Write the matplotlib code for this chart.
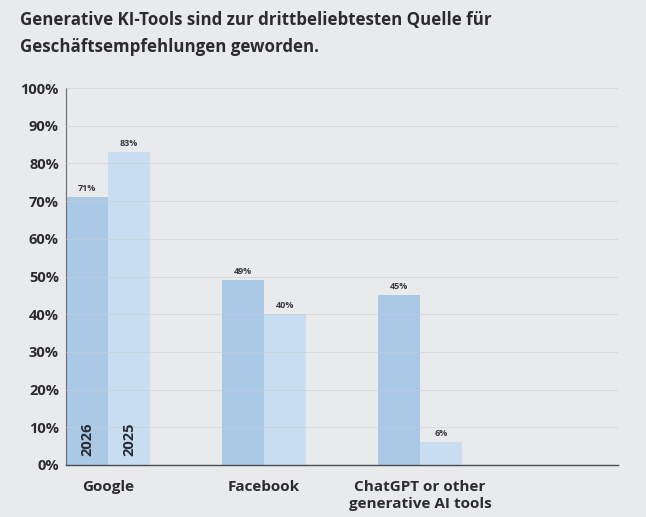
import matplotlib
matplotlib.use("Agg")
import matplotlib.pyplot as plt
import numpy as np

categories = ["Google", "Facebook", "ChatGPT or other\ngenerative AI tools"]
years = ["2026", "2025"]
values_2026 = [71, 49, 45]
values_2025 = [83, 40, 6]
yticks = [0, 10, 20, 30, 40, 50, 60, 70, 80, 90, 100]
title = "Generative KI-Tools sind zur drittbeliebtesten Quelle für\nGeschäftsempfehlungen geworden."

plt.rcParams['font.family'] = ['Open Sans', 'DejaVu Sans']
bg = "#e9eaec"
c2026 = "#a9c9e7"
c2025 = "#c9ddf1"
txt = "#2b2b30"

fig = plt.figure(figsize=(6.46, 5.17), dpi=100, facecolor=bg)
ax = fig.add_axes([0.102, 0.1006, 0.855, 0.729])
ax.set_facecolor(bg)

x = np.arange(len(categories))
w = 0.27
b1 = ax.bar(x - w / 2, values_2026, w, color=c2026, zorder=1)
b2 = ax.bar(x + w / 2, values_2025, w, color=c2025, zorder=1)

for bars, vals in ((b1, values_2026), (b2, values_2025)):
    for r, v in zip(bars, vals):
        ax.text(r.get_x() + r.get_width() / 2, v + 1.2, f"{v}%", ha="center", va="bottom",
                fontsize=6.5, fontweight="bold", color="#3a3a40", zorder=3)

# year labels inside first group
for r, yr in zip((b1[0], b2[0]), years):
    ax.text(r.get_x() + r.get_width() / 2, 2.5, yr, rotation=90, ha="center", va="bottom",
            fontsize=10.5, fontweight="bold", color=txt, zorder=3)

ax.set_xlim(-0.27, 3.27)
ax.set_ylim(0, 100)
ax.set_yticks(yticks)
ax.set_yticklabels([f"{t}%" for t in yticks], fontsize=10.5, fontweight="bold", color=txt)
ax.set_xticks(x)
ax.set_xticklabels(categories, fontsize=11, fontweight="bold", color=txt, linespacing=1.25)
ax.tick_params(axis="both", length=0)
ax.tick_params(axis="y", pad=5)
ax.tick_params(axis="x", pad=11)
for t in ax.get_yticklabels():
    t.set_horizontalalignment("right")

ax.yaxis.grid(True, color="#c9cbd0", linewidth=0.6, alpha=0.6, zorder=2)
ax.set_axisbelow(False)
for s in ("top", "right"):
    ax.spines[s].set_visible(False)
ax.spines["left"].set_color("#6a6a70")
ax.spines["left"].set_linewidth(0.8)
ax.spines["bottom"].set_color("#4a4a50")
ax.spines["bottom"].set_linewidth(1.0)

fig.text(0.031, 0.978, title, ha="left", va="top", fontsize=12.2, fontweight="bold",
         color=txt, linespacing=1.65)

fig.savefig("out.png", dpi=100, facecolor=bg)
